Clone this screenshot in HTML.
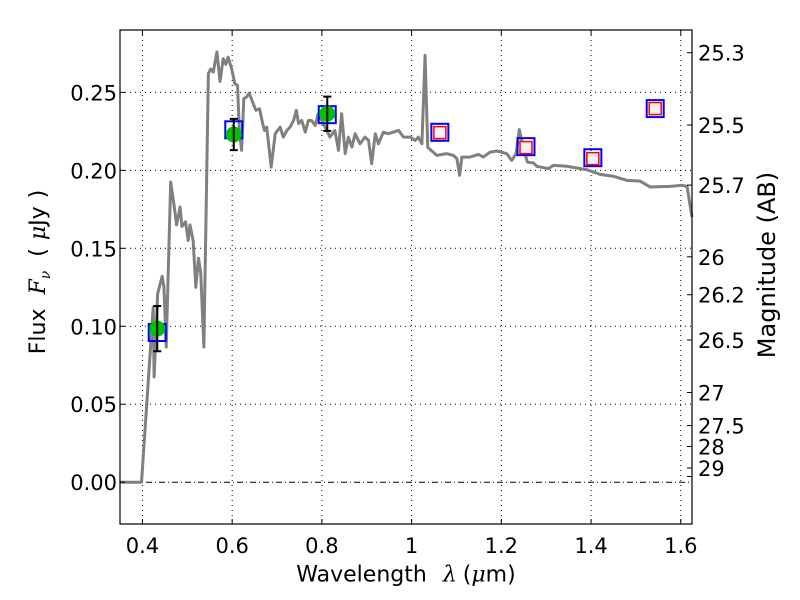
<!DOCTYPE html>
<html><head><meta charset="utf-8"><style>
body{margin:0;background:#fff;}
svg{display:block;font-family:"DejaVu Sans","Liberation Sans",sans-serif;}
.m{font-family:"DejaVu Serif","Liberation Serif",serif;font-style:italic;}
</style></head><body>
<svg id="chart" width="800" height="600" xmlns="http://www.w3.org/2000/svg"></svg>
<script>
const specWave=[0.350,0.398,0.424,0.426,0.434,0.444,0.448,0.453,0.463,0.471,0.476,0.484,0.488,0.496,0.502,0.506,0.513,0.519,0.525,0.530,0.537,0.547,0.552,0.558,0.566,0.573,0.580,0.586,0.591,0.599,0.606,0.612,0.616,0.621,0.626,0.632,0.638,0.647,0.653,0.661,0.668,0.672,0.677,0.687,0.696,0.707,0.714,0.722,0.729,0.737,0.743,0.748,0.755,0.763,0.770,0.777,0.785,0.792,0.811,0.818,0.829,0.837,0.844,0.852,0.859,0.867,0.874,0.885,0.896,0.904,0.911,0.919,0.926,0.937,0.948,0.959,0.971,0.982,0.997,1.008,1.015,1.023,1.030,1.036,1.056,1.078,1.093,1.101,1.107,1.112,1.130,1.149,1.160,1.175,1.190,1.212,1.223,1.233,1.240,1.249,1.258,1.272,1.279,1.305,1.316,1.346,1.391,1.420,1.450,1.480,1.509,1.532,1.576,1.602,1.614,1.625];
const specFlux=[0,0,0.112,0.0675,0.121,0.132,0.125,0.0867,0.1925,0.1765,0.165,0.1765,0.164,0.167,0.155,0.165,0.155,0.125,0.1436,0.134,0.0867,0.262,0.265,0.263,0.276,0.257,0.2716,0.268,0.2726,0.265,0.2556,0.2545,0.2256,0.2128,0.246,0.247,0.2495,0.2427,0.2385,0.2395,0.230,0.2256,0.2277,0.2021,0.2235,0.2277,0.2213,0.2256,0.2277,0.232,0.2385,0.230,0.232,0.2245,0.232,0.232,0.2288,0.2363,0.2256,0.2213,0.2256,0.2128,0.2363,0.2107,0.2213,0.215,0.2235,0.217,0.2213,0.2192,0.2043,0.2235,0.217,0.2245,0.2235,0.2245,0.2256,0.2213,0.2213,0.2192,0.2213,0.217,0.2737,0.2147,0.2096,0.2107,0.2096,0.2075,0.1968,0.2085,0.2085,0.2102,0.2085,0.2117,0.2124,0.2107,0.2064,0.2107,0.2261,0.215,0.2053,0.2047,0.2026,0.2011,0.2032,0.2026,0.2004,0.1974,0.1962,0.1936,0.1931,0.1893,0.1897,0.1904,0.1897,0.170];
const obsWave=[0.433,0.6036,0.812];
const obsFlux=[0.0985,0.223,0.2363];
const obsErr=[0.0145,0.010,0.011];
const bandWave=[0.433,0.6036,0.812,1.063,1.255,1.404,1.543];
const bandFlux=[0.096,0.226,0.2357,0.2244,0.2152,0.2081,0.2396];
const modelWave=[1.063,1.255,1.404,1.543];
const modelFlux=[0.2242,0.2146,0.2075,0.2396];
const xTicks=[0.4,0.6,0.8,1.0,1.2,1.4,1.6];
const xTickLabels=["0.4","0.6","0.8","1","1.2","1.4","1.6"];
const yTicks=[0,0.05,0.10,0.15,0.20,0.25];
const yTickLabels=["0.00","0.05","0.10","0.15","0.20","0.25"];
const magTicks=[25.3,25.5,25.7,26,26.2,26.5,27,27.5,28,29,30];
const magLabels=["25.3","25.5","25.7","26","26.2","26.5","27","27.5","28","29",""];

const L=120,R=692,T=30,B=524,XMIN=0.35,XMAX=1.625,YMIN=-0.0268,YMAX=0.29;
const X=v=>L+(v-XMIN)/(XMAX-XMIN)*(R-L);
const Y=v=>B-(v-YMIN)/(YMAX-YMIN)*(B-T);
const svg=document.getElementById('chart');
const NS="http://www.w3.org/2000/svg";
function mk(tag,attrs,parent){const e=document.createElementNS(NS,tag);for(const k in attrs)e.setAttribute(k,attrs[k]);(parent||svg).appendChild(e);return e;}

xTicks.forEach((t,i)=>{
  const g=mk('line',{x1:X(t),x2:X(t),y1:T,y2:B,stroke:'#000','stroke-width':1,'stroke-dasharray':'1,4'});
  
  
});
yTicks.forEach((t,i)=>{
  const g=mk('line',{x1:L,x2:R,y1:Y(t),y2:Y(t),stroke:'#000','stroke-width':1,'stroke-dasharray':t===0?'6,3,1,3':'1,4'});
  
  
});
const sp=mk('polyline',{points:specWave.map((w,i)=>X(w)+','+Y(specFlux[i])).join(' '),fill:'none',stroke:'#808080','stroke-width':3,'stroke-linejoin':'round'});


bandWave.forEach((w,i)=>{
  const s=mk('rect',{x:X(w)-8.5,y:Y(bandFlux[i])-8.5,width:17,height:17,fill:'none',stroke:'#0000ff','stroke-width':2});
  
  
});
modelWave.forEach((w,i)=>{
  const s=mk('rect',{x:X(w)-6,y:Y(modelFlux[i])-6,width:12,height:12,fill:'#f6f2f6',stroke:'#ff0000','stroke-width':1.5});
  
  
});
obsWave.forEach((w,i)=>{
  const c=mk('circle',{cx:X(w),cy:Y(obsFlux[i]),r:8,fill:'#00c000'});
  
  
  const x=X(w),y1=Y(obsFlux[i]+obsErr[i]),y2=Y(obsFlux[i]-obsErr[i]);
  const e=mk('path',{d:`M${x},${y1}V${y2}M${x-4},${y1}H${x+4}M${x-4},${y2}H${x+4}`,stroke:'#000','stroke-width':2,fill:'none'});
  
  
});
const fr=mk('rect',{x:L,y:T,width:R-L,height:B-T,fill:'none',stroke:'#000','stroke-width':1.2});


xTicks.forEach((t,i)=>{
  mk('path',{d:`M${X(t)},${B}v-5M${X(t)},${T}v5`,stroke:'#000'});
  const tx=mk('text',{x:X(t),y:B+29,'font-size':21,'text-anchor':'middle'});
  tx.textContent=xTickLabels[i];
  
  
});
yTicks.forEach((t,i)=>{
  mk('path',{d:`M${L},${Y(t)}h5`,stroke:'#000'});
  const tx=mk('text',{x:L-3,y:Y(t)+8,'font-size':21,'text-anchor':'end'});
  tx.textContent=yTickLabels[i];
  
  
});
magTicks.forEach((m,i)=>{
  const f=Math.pow(10,(23.9-m)/2.5);const y=Y(f);
  mk('path',{d:`M${R},${y}h-5`,stroke:'#000'});
  const tx=mk('text',{x:R+6,y:y+8,'font-size':21});
  tx.textContent=magLabels[i];
  
  
});
</script>
<div style="position:absolute;left:0;top:0;width:800px;height:600px;pointer-events:none;">
<div style="position:absolute;left:406px;top:575px;transform:translate(-50%,-50%);font:22px 'DejaVu Sans','Liberation Sans',sans-serif;white-space:nowrap;">Wavelength<span class="m" style="margin-left:16px;margin-right:6px">λ</span>(<span class="m">μ</span>m)</div>
<div style="position:absolute;left:40px;top:272px;transform:translate(-50%,-50%) rotate(-90deg);font:22px 'DejaVu Sans','Liberation Sans',sans-serif;white-space:nowrap;">Flux<span class="m" style="margin-left:14px">F<sub style="font-size:14px">ν</sub></span><span style="margin-left:14px">(</span><span class="m" style="margin-left:8px">μ</span>Jy<span style="margin-left:8px">)</span></div>
<div style="position:absolute;left:767px;top:265px;transform:translate(-50%,-50%) rotate(-90deg);font:24px 'DejaVu Sans','Liberation Sans',sans-serif;white-space:nowrap;">Magnitude (AB)</div>
</div>
</body></html>
